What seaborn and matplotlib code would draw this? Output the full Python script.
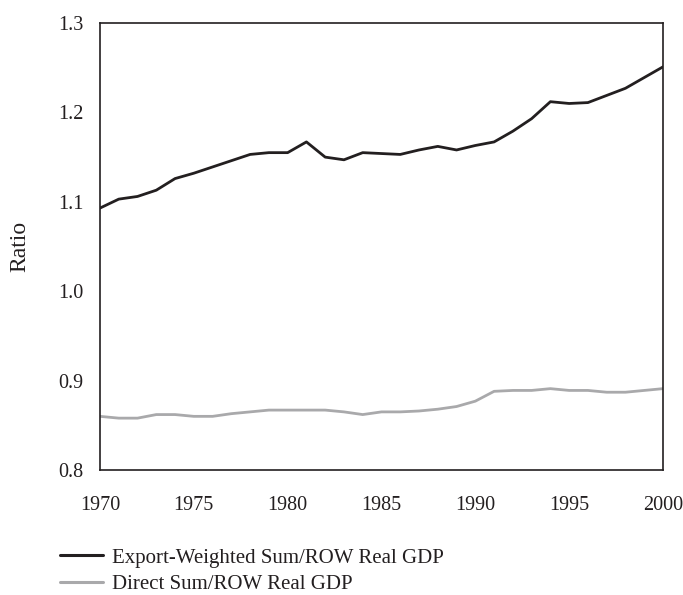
import numpy as np
import pandas as pd
import matplotlib
matplotlib.use("Agg")
import matplotlib.pyplot as plt
import seaborn as sns

# values
years = list(range(1970, 2001))
export_weighted = [1.093, 1.103, 1.106, 1.113, 1.126, 1.132, 1.139, 1.146, 1.153, 1.155,
                   1.155, 1.167, 1.150, 1.147, 1.155, 1.154, 1.153, 1.158, 1.162, 1.158,
                   1.163, 1.167, 1.179, 1.193, 1.212, 1.210, 1.211, 1.219, 1.227, 1.239,
                   1.251]
direct_sum = [0.860, 0.858, 0.858, 0.862, 0.862, 0.860, 0.860, 0.863, 0.865, 0.867,
              0.867, 0.867, 0.867, 0.865, 0.862, 0.865, 0.865, 0.866, 0.868, 0.871,
              0.877, 0.888, 0.889, 0.889, 0.891, 0.889, 0.889, 0.887, 0.887, 0.889,
              0.891]
series_names = ["Export-Weighted Sum/ROW Real GDP", "Direct Sum/ROW Real GDP"]

df = pd.DataFrame({
    "Year": years * 2,
    "Ratio": export_weighted + direct_sum,
    "Series": [series_names[0]] * len(years) + [series_names[1]] * len(years),
})

sns.set_style("white")
plt.rcParams['font.family'] = ['Liberation Serif', 'DejaVu Serif']

fig = plt.figure(figsize=(6.83, 5.95), dpi=100)
ax = fig.add_axes([0.1464, 0.2101, 0.8243, 0.7512])

sns.lineplot(data=df, x="Year", y="Ratio", hue="Series",
             palette={series_names[0]: "#231f20", series_names[1]: "#a9a9ab"},
             linewidth=2.0, ax=ax, legend=False)

ax.set_xlim(1970, 2000)
ax.set_ylim(0.8, 1.3)
ax.set_xticks(range(1970, 2001, 5))
ax.set_yticks([0.8, 0.9, 1.0, 1.1, 1.2, 1.3])
ax.set_yticklabels(["0.8", "0.9", "1.0", "1.1", "1.2", "1.3"])
ax.tick_params(axis="both", direction="in", length=5, width=1, colors="#231f20",
               labelsize=14.5, labelcolor="#231f20")
ax.tick_params(axis="x", pad=19)
ax.tick_params(axis="y", pad=12)
for side in ["left", "right", "top", "bottom"]:
    ax.spines[side].set_visible(True)
    ax.spines[side].set_color("#231f20")
    ax.spines[side].set_linewidth(1.2)

ax.set_xlabel("")
ax.set_ylabel("Ratio", fontsize=17, color="#231f20", labelpad=20)

handles = [plt.Line2D([], [], color="#231f20", lw=2.2),
           plt.Line2D([], [], color="#a9a9ab", lw=2.2)]
fig.legend(handles, series_names, loc="upper left", bbox_to_anchor=(0.088, 0.079),
           frameon=False, fontsize=15, handlelength=2.07, handletextpad=0.43,
           labelspacing=0.33, borderpad=0, borderaxespad=0, labelcolor="#231f20")

fig.savefig("out.png", dpi=100)
